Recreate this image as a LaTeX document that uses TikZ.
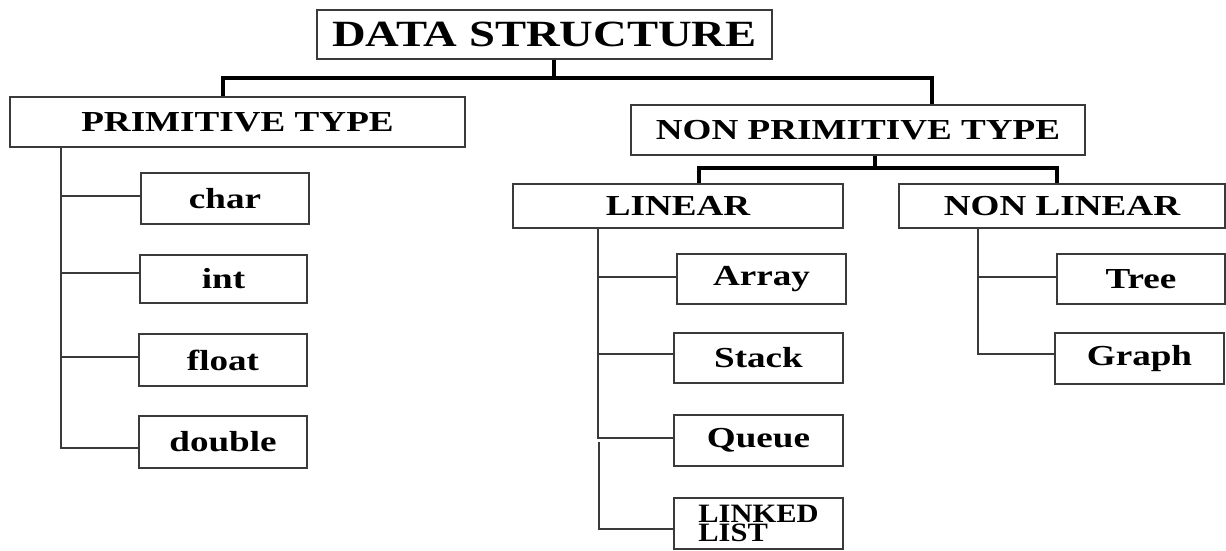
\documentclass[tikz,border=0pt]{standalone}
\usepackage{fontspec}
\setmainfont{Liberation Serif}
\definecolor{boxgray}{HTML}{3A3A3A}
\newcommand\sx[1]{\scalebox{1.28}[1]{#1}}
\begin{document}
\begin{tikzpicture}[x=1pt,y=-1pt,
  box/.style={draw=boxgray, line width=1.6pt, rectangle, inner sep=0pt,
              font=\bfseries\fontsize{29}{29}\selectfont},
  big/.style={font=\bfseries\fontsize{37}{37}\selectfont},
  conn/.style={draw=boxgray, line width=1.5pt},
  bar/.style={draw=black, line width=3.5pt}]
\useasboundingbox (0,0) rectangle (1226,550);
% top level
\node[box,big, minimum width=455pt, minimum height=49pt] (ds) at (544.5,34.5) {\scalebox{1.26}[1]{DATA STRUCTURE}};
\node[box, minimum width=455pt, minimum height=50pt] (pt) at (237.5,122) {\sx{PRIMITIVE TYPE}};
\node[box, minimum width=454pt, minimum height=50pt] (npt) at (858,130) {\sx{NON PRIMITIVE TYPE}};
\node[box, minimum width=330pt, minimum height=44pt] (lin) at (678,206) {\sx{LINEAR}};
\node[box, minimum width=326pt, minimum height=44pt] (nl) at (1062,206) {\sx{NON LINEAR}};
% primitive children
\node[box, minimum width=168pt, minimum height=51pt] (char) at (225,198.5) {\sx{char}};
\node[box, minimum width=167pt, minimum height=48pt] (int) at (223.5,279) {\sx{int}};
\node[box, minimum width=168pt, minimum height=52pt] (float) at (223,360) {\sx{float}};
\node[box, minimum width=168pt, minimum height=52pt] (double) at (223,442) {\sx{double}};
% linear children
\node[box, minimum width=169pt, minimum height=50pt] (array) at (761.5,279) {\sx{Array}};
\node[box, minimum width=169pt, minimum height=50pt] (stack) at (758.5,358) {\sx{Stack}};
\node[box, minimum width=169pt, minimum height=51pt] (queue) at (758.5,440.5) {\sx{Queue}};
\node[box, minimum width=169pt, minimum height=51pt] (ll) at (758.5,523.5)
  {\fontsize{26.5}{19}\selectfont\scalebox{1.15}[1]{\vbox{\baselineskip=19pt\lineskiplimit=-50pt\hbox{LINKED}\hbox{LIST}}}};
% non linear children
\node[box, minimum width=168pt, minimum height=50pt] (tree) at (1141,279) {\sx{Tree}};
\node[box, minimum width=169pt, minimum height=51pt] (graph) at (1139.5,358.5) {\sx{Graph}};
% thick bars
\coordinate (j1) at (554,78);
\draw[bar] ([xshift=9.5pt]ds.south) -- (j1);
\draw[bar] ([xshift=-14.5pt]pt.north) |- (j1) -| ([xshift=74pt]npt.north);
\coordinate (j2) at (875,168);
\draw[bar] ([xshift=17pt]npt.south) -- (j2);
\draw[bar] ([xshift=21pt]lin.north) |- (j2) -| ([xshift=-5pt]nl.north);
% primitive trunk
\coordinate (ptr) at ([xshift=52pt]pt.south west);
\draw[conn] (ptr) |- ([yshift=2.5pt]char.west);
\draw[conn] (ptr) |- ([yshift=6pt]int.west);
\draw[conn] (ptr) |- ([yshift=3pt]float.west);
\draw[conn] (ptr) |- ([yshift=-6pt]double.west);
% linear trunk
\coordinate (ltr) at ([xshift=86pt]lin.south west);
\draw[conn] (ltr) |- ([yshift=2pt]array.west);
\draw[conn] (ltr) |- ([yshift=4pt]stack.west);
\draw[conn] (ltr) |- ([yshift=2.5pt]queue.west);
\coordinate (lgap) at (599,442);
\draw[conn] (lgap) |- ([yshift=-5.5pt]ll.west);
% non linear trunk
\coordinate (ntr) at ([xshift=80pt]nl.south west);
\draw[conn] (ntr) |- ([yshift=2pt]tree.west);
\draw[conn] (ntr) |- ([yshift=4.5pt]graph.west);
\end{tikzpicture}
\end{document}
